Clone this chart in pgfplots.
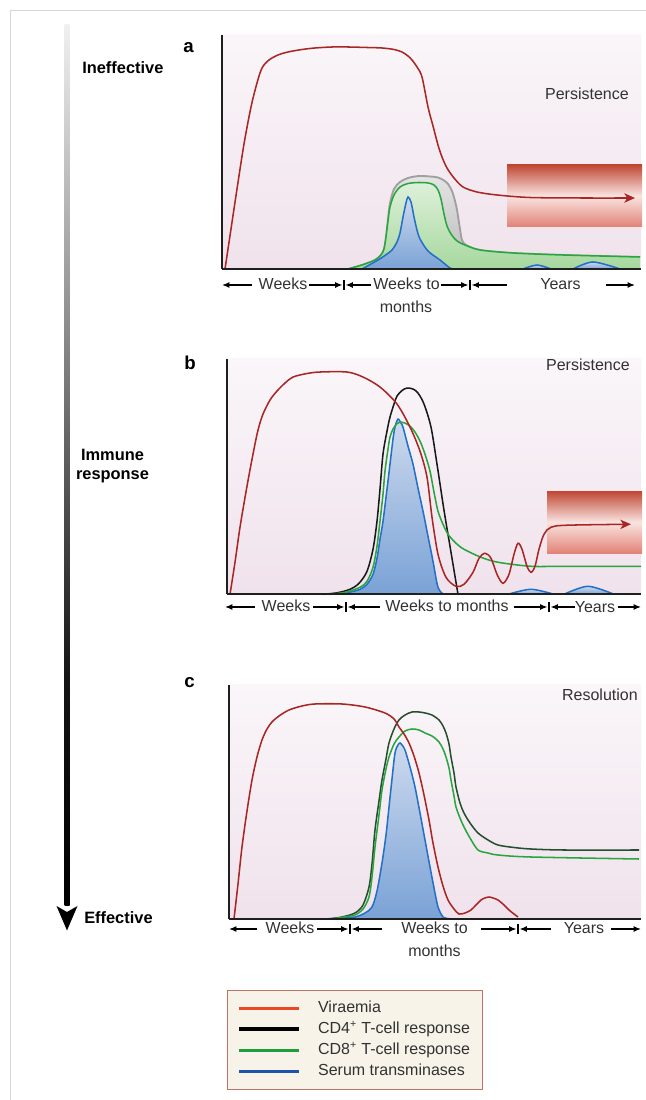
\documentclass[border=0pt]{standalone}
\usepackage{fontspec}
\setmainfont{Liberation Sans}
\usepackage{pgfplots}
\usepackage{pgfplotstable}
\pgfplotsset{compat=1.18}
\usetikzlibrary{arrows.meta}

\definecolor{vir}{RGB}{168,38,36}
\definecolor{cdfour}{RGB}{25,25,25}
\definecolor{cdfourc}{RGB}{38,78,48}
\definecolor{cdeight}{RGB}{40,165,62}
\definecolor{trans}{RGB}{35,112,198}
\definecolor{pinktop}{RGB}{250,246,249}
\definecolor{pinkbot}{RGB}{240,226,236}
\definecolor{bluetop}{RGB}{205,218,238}
\definecolor{bluebot}{RGB}{122,162,214}
\definecolor{greentop}{RGB}{222,240,218}
\definecolor{greenbot}{RGB}{166,216,158}
\definecolor{graytop}{RGB}{228,228,228}
\definecolor{graybot}{RGB}{185,185,185}
\definecolor{grayline}{RGB}{160,160,160}
\definecolor{boxtop}{RGB}{192,72,52}
\definecolor{boxmid}{RGB}{249,228,225}
\definecolor{boxbot}{RGB}{226,130,118}
\definecolor{txt}{RGB}{50,50,50}
\definecolor{legfill}{RGB}{247,243,232}
\definecolor{legdraw}{RGB}{185,115,105}
\definecolor{legvir}{RGB}{232,72,38}
\definecolor{legcd8}{RGB}{30,158,60}
\definecolor{legblue}{RGB}{30,84,170}

\pgfdeclareverticalshading{barshade}{100bp}{color(0bp)=(black); color(25bp)=(black); color(38bp)=(black!92); color(50bp)=(black!64); color(60bp)=(black!40); color(75bp)=(black!6); color(100bp)=(black!6)}

% ---------------- data (x: px from left axis, y: px above x axis) ----------------
\pgfplotstableread{
x y
3 0
9 40
15 80
22 125
29 162
35 186
40 201
47 209
56 214
66 217
80 219.5
93 221
110 222
126 222
145 221.5
160 221
172 219.5
180 217
186 213
190 209
195 202
200 192
206 162
211 143
216 124
220 112
225 101
232 91
241 82
255 77
275 74
308 71.5
360 71
413 71
}\aRed
\pgfplotstableread{
x y
126 0
140 4
153 9
159 14
162 20
164 32
166 50
168 66
172 80
178 87
186 91
197 93
208 92.5
216 91.5
222 88.5
226 85
230 78
233 68
235 59
238 40
240 29
244 24
258 19
291 16
341 14
418 12
}\aGray
\pgfplotstableread{
x y
126 0
140 4
153 9
159 14
162 20
164 32
166 48
168 62
172 74
178 82
186 85.5
197 86.5
206 86
212 84
216 79
219 70
222 55
225 43
229 35
235 28
243 24
258 19
291 16
341 14
418 12
}\aGreen
\pgfplotstableread{
x y
140 0
156 9
165 15
170 19
175 27
178 36
181 52
184 66
186 72
189 67
192 52
195 39
198 30
206 18
218 9
228 1
232 0
}\aBlue
\pgfplotstableread{
x y
301 0
315 4
329 0
}\aBumpA
\pgfplotstableread{
x y
351 0
371 7
398 0
}\aBumpB

\pgfplotstableread{
x y
3 0
8 32
13 67
20 108
26 140
31 164
36 180
43 194
50 203
58 211
66 217
80 220.5
93 222
120 222
136 217
153 207
170 190
183 167
193 143
200 117
205 77
211 40
219 17
229 8
237 10
246 22
252 36
258 41
264 36
270 20
276 11
282 20
287 40
291 51
295 45
300 28
304 22
308 28
312 45
317 60
324 67
340 69
404 70
}\bRed
\pgfplotstableread{
x y
96 0
110 1.5
123 5
132 11
140 23
146 45
150 73
153 105
156 140
160 163
163 177
167 190
170 198
175 203.5
180 206
186 205
191 201
197 190
204 167
210 130
217 84
224 42
231 0
}\bBlack
\pgfplotstableread{
x y
103 0
118 2
133 7
140 13
146 27
150 48
153 73
156 100
158 123
161 145
163 157
166 165
170 170.5
173 172
178 171
183 168
188 162
193 153
198 140
203 123
207 102
211 83
216 70
221 60
229 51
237 45
254 37
271 32
304 28
337 28
414 28
}\bGreen
\pgfplotstableread{
x y
110 0
122 2
133 5
140 10
146 20
150 36
153 55
156 73
160 105
163 130
166 155
168 167
171 175
174 171
176 167
181 148
186 130
191 106
196 83
201 58
206 33
209 16
211 7
214 2
217 0
}\bBlue
\pgfplotstableread{
x y
281 0
304 5
327 0
}\bBumpA
\pgfplotstableread{
x y
337 0
361 8
387 0
}\bBumpB

\pgfplotstableread{
x y
5 0
9 35
13 72
18 108
23 139
28 162
33 179
38 190
43 197
50 203
60 209
73 213
86 215
113 215
136 212
156 206
165 200
170 192
175 185
180 176
185 163
190 146
195 124
200 99
204 76
209 52
214 33
219 19
225 10
230 5
236 6
242 9
247 14
252 19
256 21
260 22
264 21
269 19
275 14
280 9
285 5
289 2
}\cRed
\pgfplotstableread{
x y
100 0
113 2
126 6
134 14
140 32
143 55
146 89
150 118
153 139
157 160
160 176
165 190
170 199
176 204
183 207
190 207
196 206
203 204
210 199
214 193
217 186
220 175
222 162
225 146
227 132
231 116
235 106
241 96
249 86
259 79
269 74
285 71.5
302 70
335 69
410 69
}\cBlack
\pgfplotstableread{
x y
103 0
115 2
126 4
134 10
140 22
143 42
146 72
150 104
153 129
157 150
160 162
165 175
170 182
176 188
183 190
190 189
196 186
203 183
210 177
214 170
217 162
220 151
222 139
225 123
227 112
231 101
235 92
241 81
249 69
259 66
269 64
302 62
410 60
}\cGreen
\pgfplotstableread{
x y
96 0
110 1
126 2
136 6
143 12
148 28
153 56
157 84
160 112
163 140
166 166
169 174
171 176
173 174
176 169
181 152
186 132
191 106
196 79
201 52
206 26
209 12
212 5
214 2
218 0.5
225 0
}\cBlue

\pgfplotsset{
  panel/.style={scale only axis, anchor=south west, xmin=0, ymin=0,
    axis lines=left, axis line style={-, line width=1.5pt, black!88},
    every inner x axis line/.append style={-}, every outer x axis line/.append style={-},
    every inner y axis line/.append style={-}, every outer y axis line/.append style={-},
    xtick=\empty, ytick=\empty, clip=false, axis on top},
  vline/.style={smooth, tension=0.5, line width=1.15pt, no markers, forget plot},
  bfill/.style={smooth, tension=0.5, draw=none, top color=bluetop, bottom color=bluebot, forget plot},
}

\tikzset{
  ar/.style={-{Latex[length=5.5pt,width=4.5pt]}, line width=1pt, black},
  br/.style={line width=2pt, black},
  lbl/.style={font=\fontsize{12pt}{14pt}\selectfont, text=txt, inner sep=0pt, anchor=base},
  blbl/.style={font=\fontsize{12.3pt}{14pt}\selectfont\bfseries, text=black, inner sep=0pt},
  abc/.style={font=\fontsize{14pt}{16pt}\selectfont\bfseries, text=black, inner sep=0pt, anchor=base west},
}

\begin{document}
\begin{tikzpicture}[x=0.75pt,y=0.75pt]
\useasboundingbox (0,0) rectangle (646,1100);
% frame
\draw[black!16, line width=0.9pt] (10.5,0) -- (10.5,1089.5) -- (646,1089.5);
% gradient arrow
\shade[shading=barshade] (64.5,194) rectangle (69.5,1075);
\fill[black] (56.5,194) -- (67,169.5) -- (77.5,194) -- (67,188) -- cycle;

% ---------------- panel a ----------------
\begin{axis}[panel, at={(222,831)}, width=314.25pt, height=175.5pt, xmax=419, ymax=234]
\shade[top color=pinktop, bottom color=pinkbot] (axis cs:0,0) rectangle (axis cs:419,234);
\shade[top color=boxtop, bottom color=boxbot, middle color=boxmid] (axis cs:285,42) rectangle (axis cs:420,104);
\addplot[smooth, tension=0.5, draw=none, top color=graytop, bottom color=graybot, forget plot] table {\aGray} \closedcycle;
\addplot[vline, grayline, line width=1.4pt] table {\aGray};
\addplot[smooth, tension=0.5, draw=none, top color=greentop, bottom color=greenbot, forget plot] table {\aGreen} \closedcycle;
\addplot[vline, cdeight] table {\aGreen};
\addplot[bfill] table {\aBlue} \closedcycle;
\addplot[vline, trans] table {\aBlue};
\addplot[bfill] table {\aBumpA} \closedcycle;
\addplot[vline, trans] table {\aBumpA};
\addplot[bfill] table {\aBumpB} \closedcycle;
\addplot[vline, trans] table {\aBumpB};
\addplot[vline, vir, -{Stealth[length=8pt,width=7pt,inset=2.2pt]}] table {\aRed};
\end{axis}

% ---------------- panel b ----------------
\begin{axis}[panel, at={(227,505)}, width=310.5pt, height=176.25pt, xmax=414, ymax=235]
\shade[top color=pinktop, bottom color=pinkbot] (axis cs:0,0) rectangle (axis cs:414,235);
\shade[top color=boxtop, bottom color=boxbot, middle color=boxmid] (axis cs:320,41) rectangle (axis cs:415,103);
\addplot[bfill] table {\bBlue} \closedcycle;
\addplot[vline, trans] table {\bBlue};
\addplot[bfill] table {\bBumpA} \closedcycle;
\addplot[vline, trans] table {\bBumpA};
\addplot[bfill] table {\bBumpB} \closedcycle;
\addplot[vline, trans] table {\bBumpB};
\addplot[vline, cdfour] table {\bBlack};
\addplot[vline, cdeight] table {\bGreen};
\addplot[vline, vir, -{Stealth[length=8pt,width=7pt,inset=2.2pt]}] table {\bRed};
\end{axis}

% ---------------- panel c ----------------
\begin{axis}[panel, at={(229,181)}, width=309pt, height=175.5pt, xmax=412, ymax=234,
  legend cell align=left,
  legend image code/.code={\draw[#1] (0pt,0pt) -- (45pt,0pt);},
  legend style={at={(-0.005,-0.3034)}, anchor=north west, draw=legdraw, line width=0.75pt,
    fill=legfill, inner xsep=7.5pt, inner ysep=5.6pt, row sep=0pt, column sep=10.5pt,
    nodes={font=\fontsize{12pt}{14pt}\selectfont, text=txt, inner sep=2pt, text height=9pt, text depth=2.75pt}}]
\shade[top color=pinktop, bottom color=pinkbot] (axis cs:0,0) rectangle (axis cs:412,234);
\addplot[bfill] table {\cBlue} \closedcycle;
\addplot[vline, trans] table {\cBlue};
\addplot[vline, cdfourc] table {\cBlack};
\addplot[vline, cdeight] table {\cGreen};
\addplot[vline, vir] table {\cRed};
\addlegendimage{legvir, line width=2.25pt}
\addlegendentry{Viraemia}
\addlegendimage{black, line width=3pt}
\addlegendentry{CD4\textsuperscript{+} T-cell response}
\addlegendimage{legcd8, line width=2.25pt}
\addlegendentry{CD8\textsuperscript{+} T-cell response}
\addlegendimage{legblue, line width=2.25pt}
\addlegendentry{Serum transminases}
\end{axis}

% ---------------- annotations (image pixel coordinates, y downward) ----------------
\begin{scope}[y=-0.75pt, shift={(0pt,825pt)}]
\node[blbl, anchor=base west] at (82,74) {Ineffective};
\node[abc] at (183,53) {a};
\node[blbl, anchor=base] at (112.5,461) {Immune};
\node[blbl, anchor=base] at (112.5,480) {response};
\node[abc] at (184,370) {b};
\node[abc] at (184,688) {c};
\node[blbl, anchor=base west] at (84,924) {Effective};

\node[lbl, anchor=base east] at (629,99.5) {Persistence};
\node[lbl, anchor=base east] at (630,371) {Persistence};
\node[lbl, anchor=base east] at (638,701) {Resolution};

% row a
\draw[ar] (252,285) -- (222,285);
\node[lbl] at (283,290) {Weeks};
\draw[ar] (309,285) -- (342.5,285);
\draw[br] (344,280) -- (344,290);
\draw[ar] (371,285) -- (345.5,285);
\node[lbl] at (406.5,290) {Weeks to};
\node[lbl] at (406,313) {months};
\draw[ar] (441,285) -- (468.5,285);
\draw[br] (470,280) -- (470,290);
\draw[ar] (507,285) -- (471.5,285);
\node[lbl] at (560.5,290) {Years};
\draw[ar] (606,285) -- (635,285);
% row b
\draw[ar] (255,607) -- (225,607);
\node[lbl] at (286,611.5) {Weeks};
\draw[ar] (313,607) -- (344.5,607);
\draw[br] (346,602) -- (346,612);
\draw[ar] (380,607) -- (347.5,607);
\node[lbl] at (447,611.5) {Weeks to months};
\draw[ar] (514,607) -- (547.5,607);
\draw[br] (549,602) -- (549,612);
\draw[ar] (575,607) -- (550.5,607);
\node[lbl] at (595,613) {Years};
\draw[ar] (618,607) -- (641,607);
% row c
\draw[ar] (257,929) -- (229,929);
\node[lbl] at (290,933.5) {Weeks};
\draw[ar] (317,929) -- (348.5,929);
\draw[br] (350,924) -- (350,934);
\draw[ar] (382,929) -- (351.5,929);
\node[lbl] at (434.5,933.5) {Weeks to};
\node[lbl] at (434.5,956.5) {months};
\draw[ar] (481,929) -- (516.5,929);
\draw[br] (518,924) -- (518,934);
\draw[ar] (551,929) -- (519.5,929);
\node[lbl] at (584,933.5) {Years};
\draw[ar] (611,929) -- (641,929);
\end{scope}
\end{tikzpicture}
\end{document}
